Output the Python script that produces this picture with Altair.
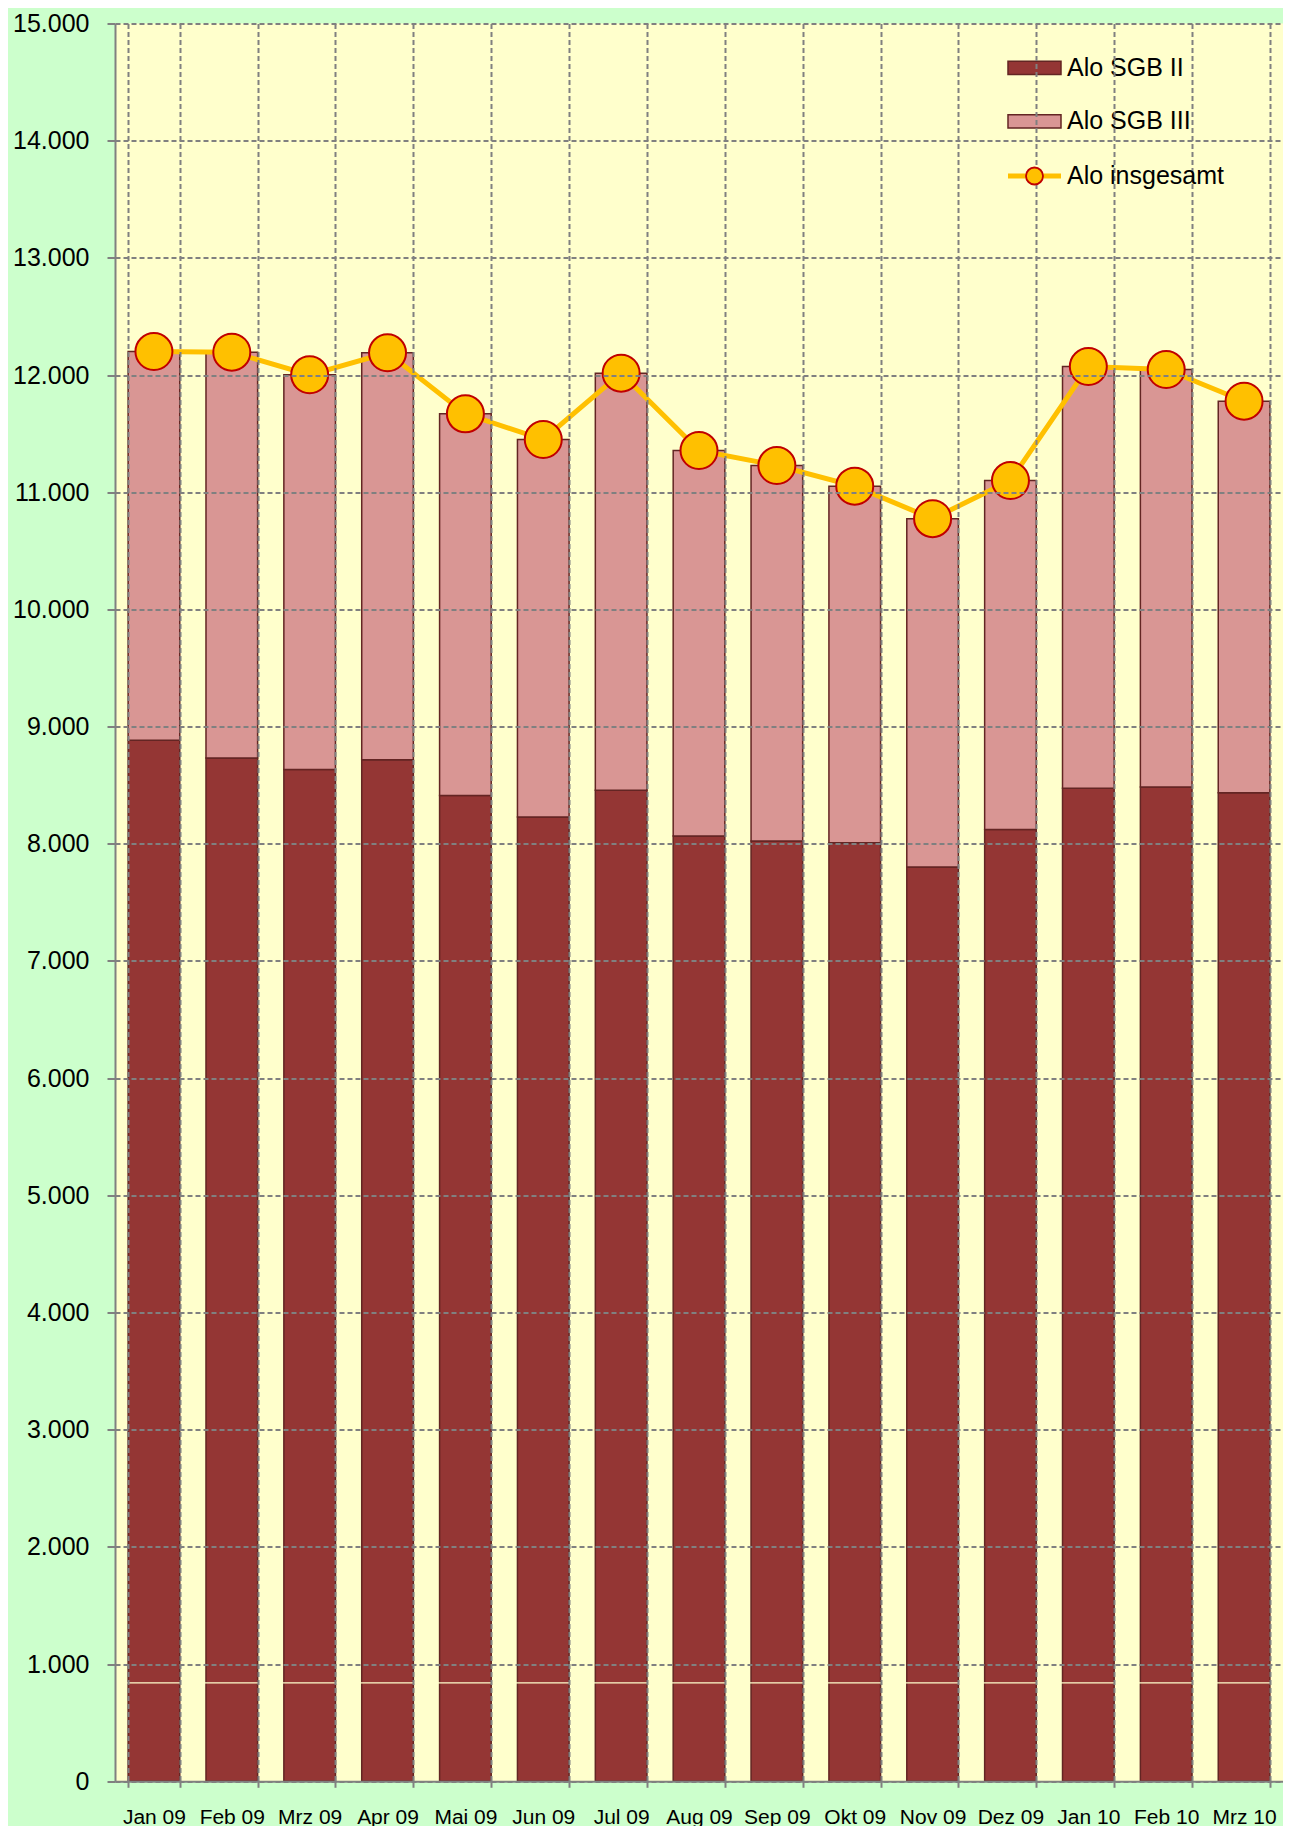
import altair as alt
import pandas as pd

months = ["Jan 09", "Feb 09", "Mrz 09", "Apr 09", "Mai 09", "Jun 09", "Jul 09",
          "Aug 09", "Sep 09", "Okt 09", "Nov 09", "Dez 09", "Jan 10", "Feb 10", "Mrz 10"]
sgb2 = [8883, 8732, 8635, 8718, 8413, 8228, 8456, 8066, 8024, 8010, 7802, 8123, 8474, 8484, 8436]
sgb3 = [3318, 3463, 3367, 3472, 3256, 3222, 3560, 3290, 3204, 3042, 2972, 2977, 3599, 3563, 3341]
total = [12201, 12195, 12002, 12190, 11669, 11450, 12016, 11356, 11228, 11052, 10774, 11100, 12073, 12047, 11777]
series_names = ["Alo SGB II", "Alo SGB III"]
line_name = "Alo insgesamt"
y_ticks = list(range(0, 15001, 1000))
marker_level = [840]

FONT = "Liberation Sans"
GRID = "#808080"

bars_df = pd.DataFrame(
    [{"month": m, "serie": series_names[0], "value": v, "o": 0} for m, v in zip(months, sgb2)]
    + [{"month": m, "serie": series_names[1], "value": v, "o": 1} for m, v in zip(months, sgb3)]
)
line_df = pd.DataFrame({"month": months, "total": total,
                        "lname": [line_name] * len(months),
                        "pname": [line_name + " "] * len(months)})
marker_df = pd.DataFrame({"v": marker_level})

x_enc = alt.X("month:N", sort=months,
              scale=alt.Scale(paddingInner=0.337, paddingOuter=0.1685),
              axis=alt.Axis(title=None, labelAngle=0, tickBand="extent", grid=True,
                            gridDash=[5, 3], gridColor=GRID, gridWidth=2,
                            domainColor=GRID, domainWidth=2, tickColor=GRID, tickWidth=2,
                            tickSize=6, labelFontSize=21, labelPadding=19, labelFont=FONT,
                            labelColor="black", zindex=1))

y_scale = alt.Scale(domain=[0, 15000], nice=False)
y_axis = alt.Axis(title=None, values=y_ticks,
                  labelExpr="replace(format(datum.value, ','), ',', '.')",
                  grid=True, gridDash=[5, 3], gridColor=GRID, gridWidth=2,
                  domainColor=GRID, domainWidth=2, tickColor=GRID, tickWidth=2,
                  tickSize=8, labelFontSize=25, labelPadding=18, labelFont=FONT,
                  labelColor="black", zindex=1)

bars = alt.Chart(bars_df).mark_bar(stroke="#632523", strokeWidth=1.5).encode(
    x=x_enc,
    y=alt.Y("value:Q", stack="zero", scale=y_scale, axis=y_axis),
    order=alt.Order("o:Q"),
    fill=alt.Fill("serie:N",
                  scale=alt.Scale(domain=series_names, range=["#943634", "#D99694"]),
                  legend=alt.Legend(title=None, orient="none", legendX=905.5, legendY=30.5,
                                    symbolType="M-2,-0.5H2V0.5H-2Z", symbolSize=702.25,
                                    symbolStrokeColor="#632523", symbolStrokeWidth=1.5,
                                    symbolOpacity=1,
                                    labelFontSize=25, labelFont=FONT, labelColor="black",
                                    labelOffset=18.5, rowPadding=26.5, padding=0)),
)

marker = alt.Chart(marker_df).mark_rule(color="#FFFFCC", strokeWidth=1.2).encode(
    y=alt.Y("v:Q", scale=y_scale, axis=y_axis)
)

line = alt.Chart(line_df).mark_line(strokeWidth=5).encode(
    x=x_enc,
    y=alt.Y("total:Q", scale=y_scale, axis=y_axis),
    stroke=alt.Stroke("lname:N", scale=alt.Scale(range=["#FFC000"]),
                      legend=alt.Legend(title=None, orient="none", legendX=903.5, legendY=136.5,
                                        symbolType="M-2,0H2", symbolSize=702.25,
                                        symbolStrokeWidth=5, symbolStrokeColor="#FFC000",
                                        labelFontSize=25, labelFont=FONT, labelColor="black",
                                        labelOffset=16.5, padding=0, zindex=1)),
)

points = alt.Chart(line_df).mark_point(filled=True, stroke="#C00000",
                                       strokeWidth=2, opacity=1, size=1369).encode(
    x=x_enc,
    y=alt.Y("total:Q", scale=y_scale, axis=y_axis),
    color=alt.Color("pname:N", scale=alt.Scale(range=["#FFC000"]),
                    legend=alt.Legend(title=None, orient="none", legendX=910, legendY=143,
                                      symbolSize=289, symbolType="circle",
                                      symbolStrokeColor="#C00000", symbolStrokeWidth=1.8,
                                      symbolOpacity=1,
                                      labelExpr="''", labelFontSize=1, padding=0, zindex=2)),
)

chart = alt.layer(bars, marker, line, points).properties(
    width=1168,
    height=1757.8,
    background="#CCFFCC",
    padding={"left": 107, "top": 15.5, "right": 0, "bottom": 45},
    autosize=alt.AutoSizeParams(type="none"),
    view=alt.ViewBackground(fill="#FFFFCC", strokeWidth=0),
).configure_view(fill="#FFFFCC", strokeWidth=0).configure(font=FONT)

chart.save("out.html", embed_options={"renderer": "svg", "actions": False})
